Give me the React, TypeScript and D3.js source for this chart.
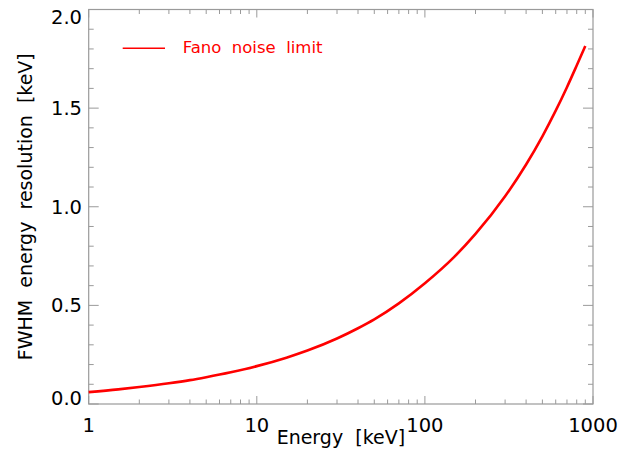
import React from "react";
import * as d3 from "d3";

const energies = [1, 1.5, 2, 3, 4, 5, 7, 10, 15, 20, 30, 40, 50, 70, 100, 150, 200, 300, 400, 500, 600, 700, 800, 900];
const fwhm = [0.060, 0.074, 0.086, 0.105, 0.121, 0.136, 0.161, 0.192, 0.235, 0.271, 0.332, 0.384, 0.429, 0.510, 0.612, 0.747, 0.862, 1.053, 1.214, 1.357, 1.487, 1.606, 1.716, 1.815];
const xMajorTicks = [1, 10, 100, 1000];
const xTickLabels = ["1", "10", "100", "1000"];
const yMajorTicks = [0, 0.5, 1.0, 1.5, 2.0];
const yTickLabels = ["0.0", "0.5", "1.0", "1.5", "2.0"];
const seriesName = "Fano\u00a0\u00a0noise\u00a0\u00a0limit";
const xTitle = "Energy\u00a0\u00a0[keV]";
const yTitle = "FWHM\u00a0\u00a0energy\u00a0\u00a0resolution\u00a0\u00a0[keV]";

const W = 620, H = 463;
const L = 88.7, R = 593, T = 9.5, B = 404;
const AX = "#9a9a9a";
const FONT = "'DejaVu Sans', Verdana, sans-serif";

export default function App() {
  const x = d3.scaleLog().domain([1, 1000]).range([L, R]);
  const y = d3.scaleLinear().domain([0, 2]).range([B, T]);
  const data = energies.map((e, i) => [e, fwhm[i]] as [number, number]);
  const line = d3.line<[number, number]>().x(d => x(d[0])).y(d => y(d[1])).curve(d3.curveMonotoneX);

  const xMinor: number[] = [];
  for (let dec = 1; dec < 1000; dec *= 10) for (let k = 2; k <= 9; k++) xMinor.push(dec * k);
  const yMinor = d3.range(0, 2.0001, 0.1).filter(v => Math.abs(v * 2 - Math.round(v * 2)) > 1e-6);

  return (
    <svg width={W} height={H} style={{ position: "absolute", left: 0, top: 0, background: "#fff" }} fontFamily={FONT}>
      <rect x={0} y={0} width={W} height={H} fill="#fff" />
      {/* ticks */}
      {xMajorTicks.map(v => (
        <g key={"xM" + v}>
          <line x1={x(v)} x2={x(v)} y1={B} y2={B - 8} stroke={AX} />
          <line x1={x(v)} x2={x(v)} y1={T} y2={T + 8} stroke={AX} />
        </g>
      ))}
      {xMinor.map(v => (
        <g key={"xm" + v}>
          <line x1={x(v)} x2={x(v)} y1={B} y2={B - 4.5} stroke={AX} />
          <line x1={x(v)} x2={x(v)} y1={T} y2={T + 4.5} stroke={AX} />
        </g>
      ))}
      {yMajorTicks.map(v => (
        <g key={"yM" + v}>
          <line x1={L} x2={L + 10} y1={y(v)} y2={y(v)} stroke={AX} />
          <line x1={R} x2={R - 10} y1={y(v)} y2={y(v)} stroke={AX} />
        </g>
      ))}
      {yMinor.map(v => (
        <g key={"ym" + v}>
          <line x1={L} x2={L + 5} y1={y(v)} y2={y(v)} stroke={AX} />
          <line x1={R} x2={R - 5} y1={y(v)} y2={y(v)} stroke={AX} />
        </g>
      ))}
      <rect x={L} y={T} width={R - L} height={B - T} fill="none" stroke={AX} strokeWidth={1.2} />
      {/* curve */}
      <path d={line(data) || ""} fill="none" stroke="#ff0000" strokeWidth={2.6} />
      {/* tick labels */}
      {xMajorTicks.map((v, i) => (
        <text key={"xl" + v} x={x(v)} y={432} textAnchor="middle" fontSize={19.5} fill="#000">{xTickLabels[i]}</text>
      ))}
      {yMajorTicks.map((v, i) => {
        const off = i === 0 ? 1 : i === yMajorTicks.length - 1 ? 14.5 : 7;
        return (
          <text key={"yl" + v} x={82} y={y(v) + off} textAnchor="end" fontSize={19.5} fill="#000">{yTickLabels[i]}</text>
        );
      })}
      {/* titles */}
      <text x={(L + R) / 2} y={444} textAnchor="middle" fontSize={19} fill="#000">{xTitle}</text>
      <text transform={`translate(31.5, ${(T + B) / 2}) rotate(-90)`} textAnchor="middle" fontSize={19} fill="#000">{yTitle}</text>
      {/* legend */}
      <line x1={122.7} x2={165} y1={48.3} y2={48.3} stroke="#ff0000" strokeWidth={1.5} />
      <text x={182.7} y={53.3} fontSize={16.5} fill="#ff0000">{seriesName}</text>
    </svg>
  );
}
